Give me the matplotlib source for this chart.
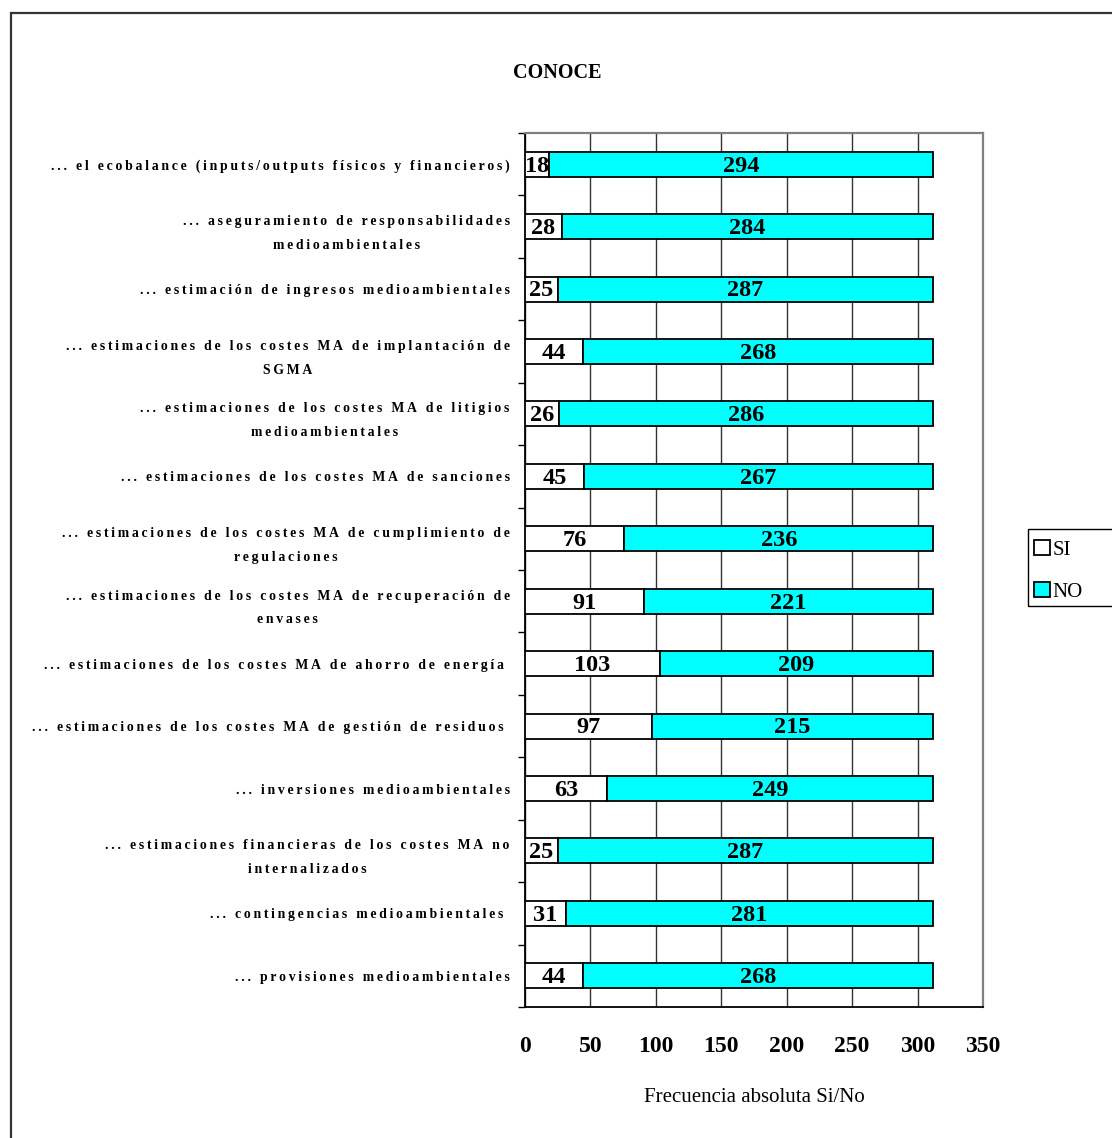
import numpy as np
import matplotlib.pyplot as plt
from matplotlib.patches import Rectangle, Patch

categorias = [
    "... el ecobalance (inputs/outputs físicos y financieros)",
    "... aseguramiento de responsabilidades\nmedioambientales",
    "... estimación de ingresos medioambientales",
    "... estimaciones de los costes MA de implantación de\nSGMA",
    "... estimaciones de los costes MA de litigios\nmedioambientales",
    "... estimaciones de los costes MA de sanciones",
    "... estimaciones de los costes MA de cumplimiento de\nregulaciones",
    "... estimaciones de los costes MA de recuperación de\nenvases",
    "... estimaciones de los costes MA de ahorro de energía ",
    "... estimaciones de los costes MA de gestión de residuos ",
    "... inversiones medioambientales",
    "... estimaciones financieras de los costes MA no\ninternalizados",
    "... contingencias medioambientales ",
    "... provisiones medioambientales",
]
si = [18, 28, 25, 44, 26, 45, 76, 91, 103, 97, 63, 25, 31, 44]
no = [294, 284, 287, 268, 286, 267, 236, 221, 209, 215, 249, 287, 281, 268]
xticks = [0, 50, 100, 150, 200, 250, 300, 350]

SERIF = ['Liberation Serif', 'DejaVu Serif']
CYAN = '#00FFFF'
W, H = 1112, 1138


def espaciado(txt):
    # widen the letter spacing like the original labels
    return '\n'.join('\u2009'.join(linea) for linea in txt.split('\n'))


fig = plt.figure(figsize=(W / 100, H / 100), dpi=100)
fig.patch.set_facecolor('white')

# outer frame
fig.add_artist(Rectangle((11 / W, -0.2), 1.5, 1 - 13 / H + 0.2,
                         transform=fig.transFigure, fill=False,
                         edgecolor='#333333', linewidth=1.6))

ax = fig.add_axes([525 / W, 1 - 1007 / H, (983 - 525) / W, (1007 - 133) / H])
y = np.arange(len(categorias))

bars_si = ax.barh(y, si, height=0.4, color='white', edgecolor='black',
                  linewidth=1.3, zorder=3)
bars_no = ax.barh(y, no, left=si, height=0.4, color=CYAN, edgecolor='black',
                  linewidth=1.3, zorder=3)

# value labels centred on each segment (small nudge down for the digits)
for i in range(len(categorias)):
    ax.text(si[i] / 2, y[i] + 0.03, str(si[i]), ha='center', va='center',
            family=SERIF, fontweight='bold', fontsize=17.5, zorder=4)
    ax.text(si[i] + no[i] / 2, y[i] + 0.03, str(no[i]), ha='center',
            va='center', family=SERIF, fontweight='bold', fontsize=17.5,
            zorder=4)

ax.set_xlim(0, 350)
ax.set_ylim(len(categorias) - 0.5, -0.5)
ax.set_xticks(xticks)
ax.set_xticklabels([str(t) for t in xticks], family=SERIF,
                   fontweight='bold', fontsize=17)
ax.tick_params(axis='x', length=0, pad=21)

ax.set_yticks(y)
ax.set_yticklabels([espaciado(c) for c in categorias], family=SERIF,
                   fontweight='bold', fontsize=9.9, linespacing=2.05)
for lab in ax.get_yticklabels():
    lab.set_multialignment('center')
ax.tick_params(axis='y', which='major', length=0, pad=11)
ax.set_yticks(np.arange(len(categorias) + 1) - 0.5, minor=True)
ax.tick_params(axis='y', which='minor', length=5, width=1, direction='out')

ax.grid(axis='x', color='#333333', linewidth=1.0, zorder=0)
ax.set_axisbelow(True)

for lado in ['left', 'bottom']:
    ax.spines[lado].set_color('black')
    ax.spines[lado].set_linewidth(1.3)
for lado in ['top', 'right']:
    ax.spines[lado].set_color('#808080')
    ax.spines[lado].set_linewidth(1.6)

ax.set_xlabel('Frecuencia absoluta Si/No', family=SERIF, fontsize=15,
              labelpad=22)

fig.text(557 / W, 1 - 73 / H, 'CONOCE', family=SERIF, fontweight='bold',
         fontsize=14.5, ha='center', va='center')

# legend box running off the right edge
fig.add_artist(Rectangle((1028 / W, 1 - 606 / H), 0.2, 77 / H,
                         transform=fig.transFigure, fill=False,
                         edgecolor='black', linewidth=1.0))
handles = [Patch(facecolor='white', edgecolor='black', linewidth=1.3, label='SI'),
           Patch(facecolor=CYAN, edgecolor='black', linewidth=1.3, label='NO')]
fig.legend(handles=handles, loc='upper left',
           bbox_to_anchor=(1034 / W, 1 - 540 / H), frameon=False,
           prop={'family': SERIF, 'size': 15}, handlelength=0.75,
           handleheight=0.75, handletextpad=0.15, labelspacing=1.05,
           borderaxespad=0, borderpad=0)

fig.savefig('out.png', dpi=100, facecolor='white')
